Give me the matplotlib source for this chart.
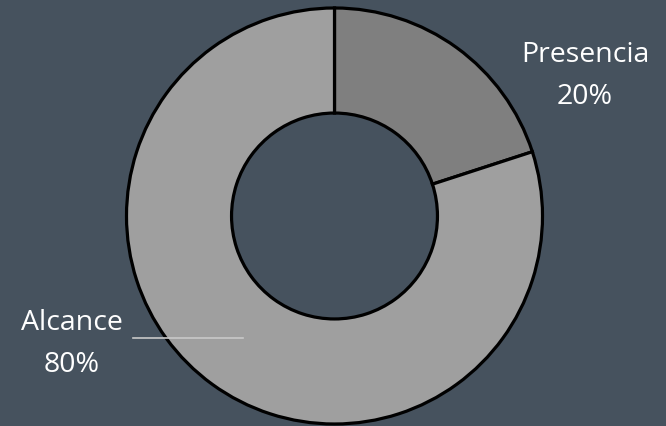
import matplotlib
matplotlib.use("Agg")
import matplotlib.pyplot as plt

labels = ["Presencia", "Alcance"]
values = [20, 80]
colors = ["#7f7f7f", "#9f9f9f"]
bg = "#46525e"

fig = plt.figure(figsize=(6.66, 4.26), dpi=100)
fig.patch.set_facecolor(bg)
ax = fig.add_axes([0, 0, 1, 1])
ax.set_facecolor(bg)

cx, cy, R = 334.5, 426 - 216, 208
wedges, _ = ax.pie(values, colors=colors, startangle=90, counterclock=False,
                   center=(cx, cy), radius=R, frame=True,
                   wedgeprops=dict(width=R * 0.505, edgecolor="black", linewidth=2.3))
ax.set_xlim(0, 666)
ax.set_ylim(0, 426)
ax.set_aspect("equal")
ax.axis("off")

# leader line for Alcance
ax.plot([133, 243], [426 - 338, 426 - 338], color="#c8c8c8", lw=1.2, zorder=5)

font = dict(color="white", fontsize=20.5, family=["Open Sans", "DejaVu Sans"],
            fontweight="normal", ha="center", va="center", linespacing=1.7)
ax.text(585, 426 - 76, f"{labels[0]}\n{values[0]}%", **font)
ax.text(72, 426 - 344, f"{labels[1]}\n{values[1]}%", **font)

fig.savefig("out.png", dpi=100, facecolor=bg)
